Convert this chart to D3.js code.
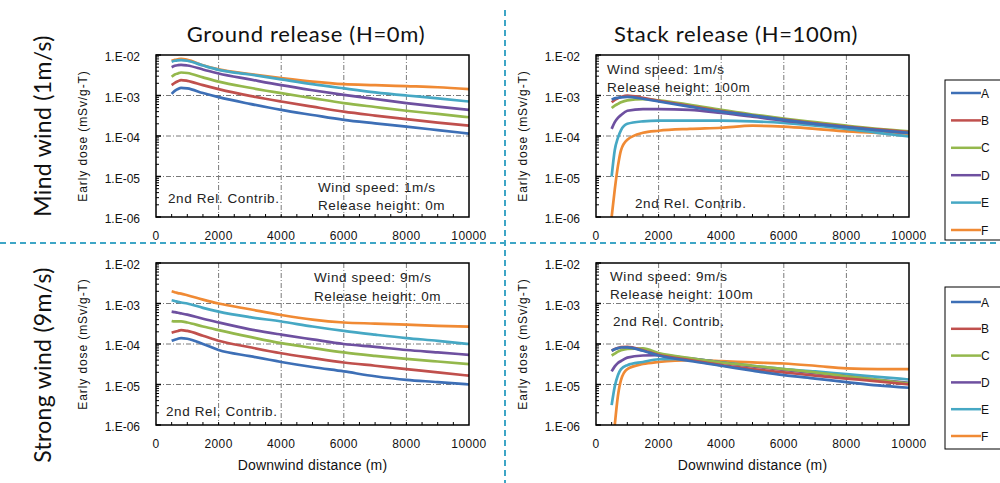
<!DOCTYPE html>
<html>
<head>
<meta charset="utf-8">
<script src="https://cdn.jsdelivr.net/npm/d3@7"></script>
<style>
  html, body { margin: 0; padding: 0; background: #fff; }
  svg { display: block; }
</style>
</head>
<body>
<svg id="chart" width="1000" height="483"></svg>
<script>
// Downwind distances (m) at which early dose is tabulated
const distances = [500, 600, 700, 800, 1000, 1500, 2000, 3000, 4000, 5000, 6000, 7000, 8000, 9000, 10000];

// Stability classes
const classes = ["A", "B", "C", "D", "E", "F"];
const classColors = ["#3d6fb6", "#c0504d", "#94b84c", "#6e50a0", "#46a8c4", "#f08a34"];

// Early dose (mSv/g-T) — ground release, wind speed 1 m/s
const ground1A = [1.1e-3, 1.3e-3, 1.45e-3, 1.55e-3, 1.5e-3, 1.15e-3, 9.1e-4, 6.2e-4, 4.4e-4, 3.3e-4, 2.5e-4, 2.05e-4, 1.7e-4, 1.4e-4, 1.15e-4];
const ground1B = [1.8e-3, 2.05e-3, 2.25e-3, 2.4e-3, 2.3e-3, 1.8e-3, 1.44e-3, 9.8e-4, 7.1e-4, 5.3e-4, 4.0e-4, 3.2e-4, 2.6e-4, 2.15e-4, 1.8e-4];
const ground1C = [2.9e-3, 3.3e-3, 3.5e-3, 3.7e-3, 3.6e-3, 2.8e-3, 2.2e-3, 1.55e-3, 1.14e-3, 8.6e-4, 6.5e-4, 5.2e-4, 4.2e-4, 3.5e-4, 2.9e-4];
const ground1D = [5.0e-3, 5.4e-3, 5.6e-3, 5.7e-3, 5.5e-3, 4.4e-3, 3.5e-3, 2.5e-3, 1.8e-3, 1.35e-3, 1.04e-3, 8.2e-4, 6.5e-4, 5.3e-4, 4.4e-4];
const ground1E = [6.8e-3, 7.2e-3, 7.4e-3, 7.5e-3, 7.2e-3, 5.5e-3, 4.3e-3, 3.3e-3, 2.5e-3, 1.9e-3, 1.5e-3, 1.2e-3, 1.0e-3, 8.5e-4, 7.1e-4];
const ground1F = [7.2e-3, 7.6e-3, 7.8e-3, 8.0e-3, 7.6e-3, 5.6e-3, 4.4e-3, 3.4e-3, 2.7e-3, 2.2e-3, 1.9e-3, 1.8e-3, 1.7e-3, 1.6e-3, 1.44e-3];

// Early dose (mSv/g-T) — stack release, wind speed 1 m/s
const stack1A = [7.9e-4, 8.5e-4, 8.8e-4, 9.0e-4, 9.2e-4, 8.3e-4, 7.1e-4, 5.3e-4, 4.0e-4, 3.2e-4, 2.5e-4, 2.0e-4, 1.65e-4, 1.4e-4, 1.2e-4];
const stack1B = [6.8e-4, 7.8e-4, 8.6e-4, 9.2e-4, 1.0e-3, 8.8e-4, 7.4e-4, 5.5e-4, 4.1e-4, 3.2e-4, 2.55e-4, 2.05e-4, 1.7e-4, 1.45e-4, 1.25e-4];
const stack1C = [4.9e-4, 5.6e-4, 6.2e-4, 6.8e-4, 7.6e-4, 8.1e-4, 7.6e-4, 5.9e-4, 4.4e-4, 3.4e-4, 2.7e-4, 2.2e-4, 1.8e-4, 1.5e-4, 1.3e-4];
const stack1D = [1.5e-4, 2.2e-4, 2.8e-4, 3.3e-4, 4.2e-4, 4.6e-4, 4.6e-4, 4.4e-4, 3.7e-4, 3.0e-4, 2.4e-4, 2.0e-4, 1.7e-4, 1.4e-4, 1.2e-4];
const stack1E = [1.0e-5, 4.5e-5, 9.0e-5, 1.4e-4, 2.0e-4, 2.3e-4, 2.4e-4, 2.4e-4, 2.4e-4, 2.3e-4, 2.1e-4, 1.8e-4, 1.5e-4, 1.2e-4, 9.8e-5];
const stack1F = [1.0e-6, 4.8e-6, 1.8e-5, 4.5e-5, 8.1e-5, 1.2e-4, 1.35e-4, 1.5e-4, 1.6e-4, 1.8e-4, 1.7e-4, 1.5e-4, 1.3e-4, 1.2e-4, 1.15e-4];

// Early dose (mSv/g-T) — ground release, wind speed 9 m/s
const ground9A = [1.2e-4, 1.28e-4, 1.35e-4, 1.4e-4, 1.35e-4, 1.0e-4, 7.1e-5, 5.0e-5, 3.6e-5, 2.7e-5, 2.1e-5, 1.6e-5, 1.3e-5, 1.15e-5, 1.0e-5];
const ground9B = [1.9e-4, 2.0e-4, 2.1e-4, 2.2e-4, 2.1e-4, 1.6e-4, 1.2e-4, 8.3e-5, 5.9e-5, 4.5e-5, 3.5e-5, 2.9e-5, 2.4e-5, 2.0e-5, 1.65e-5];
const ground9C = [3.7e-4, 3.6e-4, 3.6e-4, 3.6e-4, 3.4e-4, 2.7e-4, 2.2e-4, 1.5e-4, 1.05e-4, 8.0e-5, 6.2e-5, 5.1e-5, 4.3e-5, 3.7e-5, 3.2e-5];
const ground9D = [6.3e-4, 6.1e-4, 5.9e-4, 5.7e-4, 5.3e-4, 4.2e-4, 3.4e-4, 2.3e-4, 1.7e-4, 1.3e-4, 1.0e-4, 8.5e-5, 7.1e-5, 6.2e-5, 5.4e-5];
const ground9E = [1.2e-3, 1.15e-3, 1.1e-3, 1.06e-3, 1.0e-3, 7.8e-4, 6.3e-4, 4.6e-4, 3.6e-4, 2.7e-4, 2.1e-4, 1.7e-4, 1.4e-4, 1.2e-4, 1.0e-4];
const ground9F = [2.0e-3, 1.9e-3, 1.8e-3, 1.75e-3, 1.6e-3, 1.25e-3, 1.0e-3, 7.2e-4, 5.2e-4, 4.0e-4, 3.4e-4, 3.2e-4, 3.0e-4, 2.8e-4, 2.7e-4];

// Early dose (mSv/g-T) — stack release, wind speed 9 m/s
const stack9A = [6.8e-5, 7.4e-5, 7.9e-5, 8.2e-5, 8.3e-5, 6.8e-5, 5.2e-5, 3.8e-5, 2.9e-5, 2.2e-5, 1.7e-5, 1.4e-5, 1.15e-5, 9.5e-6, 8.3e-6];
const stack9B = [6.8e-5, 7.5e-5, 8.0e-5, 8.4e-5, 8.5e-5, 7.0e-5, 5.4e-5, 4.0e-5, 3.0e-5, 2.4e-5, 2.0e-5, 1.65e-5, 1.4e-5, 1.2e-5, 1.0e-5];
const stack9C = [5.2e-5, 5.8e-5, 6.5e-5, 7.0e-5, 7.6e-5, 7.8e-5, 6.0e-5, 4.5e-5, 3.5e-5, 2.9e-5, 2.4e-5, 2.0e-5, 1.6e-5, 1.3e-5, 1.05e-5];
const stack9D = [2.1e-5, 2.8e-5, 3.4e-5, 3.8e-5, 4.6e-5, 5.2e-5, 5.3e-5, 4.4e-5, 3.5e-5, 2.8e-5, 2.3e-5, 1.9e-5, 1.6e-5, 1.3e-5, 1.1e-5];
const stack9E = [3.1e-6, 9.0e-6, 1.7e-5, 2.4e-5, 3.0e-5, 3.6e-5, 4.2e-5, 4.3e-5, 3.5e-5, 2.9e-5, 2.4e-5, 2.1e-5, 1.8e-5, 1.55e-5, 1.33e-5];
const stack9F = [null, 1.0e-6, 5.2e-6, 1.3e-5, 2.4e-5, 3.2e-5, 3.6e-5, 4.0e-5, 3.8e-5, 3.5e-5, 3.3e-5, 2.9e-5, 2.5e-5, 2.4e-5, 2.4e-5];

// Axis ticks
const xTicks = [0, 2000, 4000, 6000, 8000, 10000];
const yTicks = [1e-2, 1e-3, 1e-4, 1e-5, 1e-6];
const yTickLabels = ["1.E-02", "1.E-03", "1.E-04", "1.E-05", "1.E-06"];

// Panel headings and notes
const columnTitles = ["Ground release (H=0m)", "Stack release (H=100m)"];
const rowTitles = ["Mind wind (1m/s)", "Strong wind (9m/s)"];
const yAxisTitle = "Early dose (mSv/g-T)";
const xAxisTitle = "Downwind distance (m)";
const contribNote = "2nd Rel. Contrib.";

const panels = [
  { box: [156, 469, 55, 217], series: [ground1A, ground1B, ground1C, ground1D, ground1E, ground1F],
    notes: [["Wind speed: 1m/s", 318, 192], ["Release height: 0m", 318, 210], [contribNote, 168, 203]], xTitle: false },
  { box: [596, 909, 55, 217], series: [stack1A, stack1B, stack1C, stack1D, stack1E, stack1F],
    notes: [["Wind speed: 1m/s", 607, 74], ["Release height: 100m", 607, 92], [contribNote, 635, 208]], xTitle: false },
  { box: [156, 469, 263, 425], series: [ground9A, ground9B, ground9C, ground9D, ground9E, ground9F],
    notes: [["Wind speed: 9m/s", 314, 282], ["Release height: 0m", 314, 301], [contribNote, 166, 416]], xTitle: true },
  { box: [596, 909, 263, 425], series: [stack9A, stack9B, stack9C, stack9D, stack9E, stack9F],
    notes: [["Wind speed: 9m/s", 610, 281], ["Release height: 100m", 610, 299], [contribNote, 613, 326]], xTitle: true }
];

const svg = d3.select("#chart");
const font = "'Liberation Sans', Arial, sans-serif";
const titleFont = "Lato, 'Open Sans', sans-serif";

// Dashed dividers between the four panels
const divider = "#3ea6c6";
svg.append("line").attr("x1", 505).attr("x2", 505).attr("y1", 10).attr("y2", 483)
  .attr("stroke", divider).attr("stroke-width", 2).attr("stroke-dasharray", "6,4");
svg.append("line").attr("x1", 0).attr("x2", 1000).attr("y1", 243).attr("y2", 243)
  .attr("stroke", divider).attr("stroke-width", 2).attr("stroke-dasharray", "6,4");

// Column and row headings
columnTitles.forEach((t, i) => {
  svg.append("text").attr("x", [306, 736][i]).attr("y", 42).attr("text-anchor", "middle")
    .attr("font-family", titleFont).attr("font-size", 22).attr("letter-spacing", 0.7)
    .attr("fill", "#111").text(t);
});
rowTitles.forEach((t, i) => {
  svg.append("text").attr("transform", `translate(51,${[126, 365][i]}) rotate(-90)`)
    .attr("text-anchor", "middle").attr("font-family", titleFont).attr("font-size", 23)
    .attr("letter-spacing", 0.3).attr("fill", "#111").text(t);
});

panels.forEach((p, pi) => {
  const [x0, x1, y0, y1] = p.box;
  const x = d3.scaleLinear().domain([0, 10000]).range([x0, x1]);
  const y = d3.scaleLog().domain([1e-6, 1e-2]).range([y1, y0]);
  const g = svg.append("g");
  const clipId = "clip" + pi;
  svg.append("clipPath").attr("id", clipId).append("rect")
    .attr("x", x0).attr("y", y0).attr("width", x1 - x0).attr("height", y1 - y0);

  // Grid lines
  g.selectAll(".gx").data(xTicks.slice(1, -1)).join("line")
    .attr("x1", d => x(d)).attr("x2", d => x(d)).attr("y1", y0).attr("y2", y1)
    .attr("stroke", "#7a7a7a").attr("stroke-width", 1).attr("stroke-dasharray", "5,2,1,2");
  g.selectAll(".gy").data(yTicks.slice(1, -1)).join("line")
    .attr("x1", x0).attr("x2", x1).attr("y1", d => y(d)).attr("y2", d => y(d))
    .attr("stroke", "#7a7a7a").attr("stroke-width", 1).attr("stroke-dasharray", "5,2,1,2");

  // Minor ticks: log steps on the y axis, 500 m steps along the bottom
  const minorY = [];
  for (let e = -6; e < -2; e++) for (let m = 2; m <= 9; m++) minorY.push(m * Math.pow(10, e));
  g.selectAll(".my").data(minorY).join("line")
    .attr("x1", x0).attr("x2", x0 + 3).attr("y1", d => y(d)).attr("y2", d => y(d))
    .attr("stroke", "#000").attr("stroke-width", 1);
  g.selectAll(".my2").data(yTicks).join("line")
    .attr("x1", x0).attr("x2", x0 + 5).attr("y1", d => y(d)).attr("y2", d => y(d))
    .attr("stroke", "#000").attr("stroke-width", 1.5);
  g.selectAll(".mx").data(d3.range(500, 10000, 500)).join("line")
    .attr("x1", d => x(d)).attr("x2", d => x(d)).attr("y1", y1).attr("y2", y1 - 3)
    .attr("stroke", "#000").attr("stroke-width", 1);

  // Dose curves, class F drawn first so class A sits on top
  const path = d3.line().defined(d => d[1] != null)
    .x(d => x(d[0])).y(d => y(d[1])).curve(d3.curveMonotoneX);
  const lines = g.append("g").attr("clip-path", `url(#${clipId})`);
  p.series.slice().reverse().forEach((vals, ri) => {
    const si = p.series.length - 1 - ri;
    lines.append("path")
      .attr("d", path(distances.map((d, i) => [d, vals[i]])))
      .attr("fill", "none").attr("stroke", classColors[si]).attr("stroke-width", 2.7)
      .attr("stroke-linejoin", "round");
  });

  // Frame
  g.append("rect").attr("x", x0).attr("y", y0).attr("width", x1 - x0).attr("height", y1 - y0)
    .attr("fill", "none").attr("stroke", "#000").attr("stroke-width", 1.5);

  // Tick labels
  g.selectAll(".yl").data(yTicks).join("text")
    .attr("x", x0 - 16).attr("y", d => y(d) + 6).attr("text-anchor", "end")
    .attr("font-family", font).attr("font-size", 12).attr("fill", "#111")
    .text((d, i) => yTickLabels[i]);
  g.selectAll(".xl").data(xTicks).join("text")
    .attr("x", d => x(d)).attr("y", y1 + 23).attr("text-anchor", "middle")
    .attr("font-family", font).attr("font-size", 12).attr("letter-spacing", 0.4).attr("fill", "#111")
    .text(d => String(d));

  // Axis titles
  g.append("text").attr("transform", `translate(${x0 - 69},${(y0 + y1) / 2}) rotate(-90)`)
    .attr("text-anchor", "middle").attr("font-family", font).attr("font-size", 12)
    .attr("letter-spacing", 0.9).attr("fill", "#111").text(yAxisTitle);
  if (p.xTitle) {
    g.append("text").attr("x", (x0 + x1) / 2).attr("y", y1 + 45).attr("text-anchor", "middle")
      .attr("font-family", font).attr("font-size", 14).attr("letter-spacing", 0.2)
      .attr("fill", "#111").text(xAxisTitle);
  }

  // Notes inside the plot
  p.notes.forEach(([t, tx, ty]) => {
    g.append("text").attr("x", tx).attr("y", ty).attr("font-family", font)
      .attr("font-size", 13.5).attr("letter-spacing", 0.6).attr("fill", "#222").text(t);
  });
});

// Legends (one per row)
[[80, 240, 93, 27.4], [287, 449, 302, 26.8]].forEach(([top, bottom, first, step]) => {
  const lg = svg.append("g");
  lg.append("rect").attr("x", 945).attr("y", top).attr("width", 70).attr("height", bottom - top)
    .attr("fill", "#fff").attr("stroke", "#000").attr("stroke-width", 1);
  classes.forEach((c, i) => {
    const yy = first + i * step;
    lg.append("line").attr("x1", 951).attr("x2", 981).attr("y1", yy).attr("y2", yy)
      .attr("stroke", classColors[i]).attr("stroke-width", 2.5);
    lg.append("text").attr("x", 981).attr("y", yy + 4.5).attr("font-family", font)
      .attr("font-size", 12).attr("fill", "#111").text(c);
  });
});
</script>
</body>
</html>
